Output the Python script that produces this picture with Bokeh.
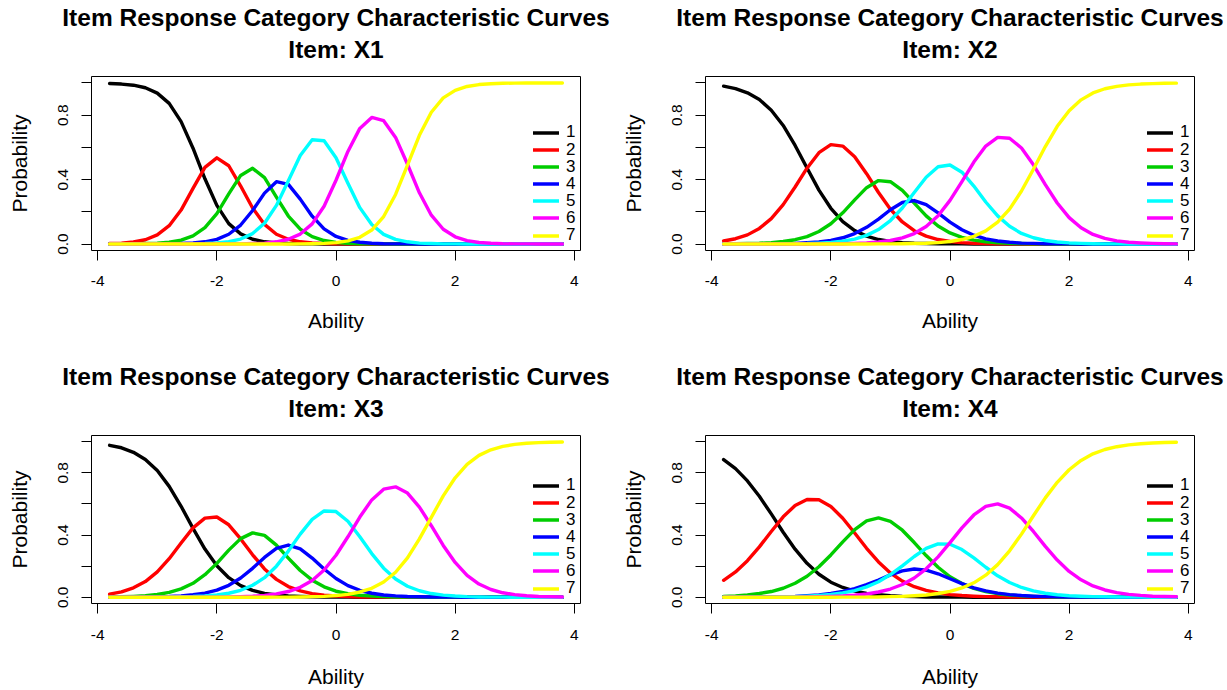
from bokeh.plotting import figure
from bokeh.models import FixedTicker, Title, Legend, LegendItem
from bokeh.layouts import column, row
from bokeh.embed import file_html
from bokeh.resources import INLINE

# ---------------- data ----------------
ability = [-3.8, -3.6, -3.4, -3.2, -3.0, -2.8, -2.6, -2.4, -2.2, -2.0,
           -1.8, -1.6, -1.4, -1.2, -1.0, -0.8, -0.6, -0.4, -0.2, 0.0,
           0.2, 0.4, 0.6, 0.8, 1.0, 1.2, 1.4, 1.6, 1.8, 2.0,
           2.2, 2.4, 2.6, 2.8, 3.0, 3.2, 3.4, 3.6, 3.8]

categories = ["1", "2", "3", "4", "5", "6", "7"]
colors = ["#000000", "#FF0000", "#00CD00", "#0000FF", "#00FFFF", "#FF00FF", "#FFFF00"]
items = ["X1", "X2", "X3", "X4"]
main_title = "Item Response Category Characteristic Curves"
x_ticks = [-4, -2, 0, 2, 4]
y_ticks = [0.0, 0.2, 0.4, 0.6, 0.8, 1.0]
y_tick_labels = ["0.0", "", "0.4", "", "0.8", ""]

# Item X1
x1_c1 = [0.997, 0.993, 0.986, 0.970, 0.937, 0.873, 0.760, 0.595, 0.405, 0.240,
         0.127, 0.063, 0.030, 0.014, 0.007, 0.003, 0.001, 0.001, 0.0, 0.0,
         0.0, 0.0, 0.0, 0.0, 0.0, 0.0, 0.0, 0.0, 0.0, 0.0,
         0.0, 0.0, 0.0, 0.0, 0.0, 0.0, 0.0, 0.0, 0.0]
x1_c2 = [0.003, 0.006, 0.013, 0.027, 0.057, 0.114, 0.211, 0.346, 0.476, 0.535,
         0.486, 0.360, 0.224, 0.122, 0.061, 0.030, 0.014, 0.007, 0.003, 0.001,
         0.001, 0.0, 0.0, 0.0, 0.0, 0.0, 0.0, 0.0, 0.0, 0.0,
         0.0, 0.0, 0.0, 0.0, 0.0, 0.0, 0.0, 0.0, 0.0]
x1_c3 = [0.0, 0.001, 0.001, 0.003, 0.005, 0.012, 0.024, 0.051, 0.102, 0.189,
         0.311, 0.426, 0.470, 0.412, 0.291, 0.174, 0.092, 0.046, 0.022, 0.010,
         0.005, 0.002, 0.001, 0.001, 0.0, 0.0, 0.0, 0.0, 0.0, 0.0,
         0.0, 0.0, 0.0, 0.0, 0.0, 0.0, 0.0, 0.0, 0.0]
x1_c4 = [0.0, 0.0, 0.0, 0.0, 0.001, 0.001, 0.003, 0.007, 0.014, 0.029,
         0.061, 0.118, 0.208, 0.316, 0.387, 0.370, 0.279, 0.173, 0.094, 0.047,
         0.023, 0.011, 0.005, 0.002, 0.001, 0.001, 0.0, 0.0, 0.0, 0.0,
         0.0, 0.0, 0.0, 0.0, 0.0, 0.0, 0.0, 0.0, 0.0]
x1_c5 = [0.0, 0.0, 0.0, 0.0, 0.0, 0.0, 0.001, 0.001, 0.003, 0.007,
         0.015, 0.031, 0.065, 0.129, 0.240, 0.393, 0.550, 0.647, 0.641, 0.536,
         0.377, 0.226, 0.121, 0.060, 0.029, 0.014, 0.006, 0.003, 0.001, 0.001,
         0.0, 0.0, 0.0, 0.0, 0.0, 0.0, 0.0, 0.0, 0.0]
x1_c6 = [0.0, 0.0, 0.0, 0.0, 0.0, 0.0, 0.0, 0.0, 0.0, 0.0,
         0.001, 0.001, 0.003, 0.006, 0.014, 0.030, 0.062, 0.125, 0.235, 0.396,
         0.575, 0.718, 0.786, 0.766, 0.662, 0.495, 0.318, 0.179, 0.092, 0.045,
         0.021, 0.010, 0.005, 0.002, 0.001, 0.001, 0.0, 0.0, 0.0]
x1_c7 = [0.0, 0.0, 0.0, 0.0, 0.0, 0.0, 0.0, 0.0, 0.0, 0.0,
         0.0, 0.0, 0.0, 0.0, 0.0, 0.0, 0.001, 0.002, 0.004, 0.009,
         0.020, 0.042, 0.087, 0.171, 0.308, 0.490, 0.675, 0.818, 0.907, 0.954,
         0.978, 0.990, 0.995, 0.998, 0.999, 1.0, 1.0, 1.0, 1.0]

# Item X2
x2_c1 = [0.980, 0.965, 0.939, 0.897, 0.831, 0.736, 0.612, 0.472, 0.335, 0.222,
         0.139, 0.084, 0.049, 0.028, 0.016, 0.009, 0.005, 0.003, 0.002, 0.001,
         0.001, 0.0, 0.0, 0.0, 0.0, 0.0, 0.0, 0.0, 0.0, 0.0,
         0.0, 0.0, 0.0, 0.0, 0.0, 0.0, 0.0, 0.0, 0.0]
x2_c2 = [0.019, 0.033, 0.057, 0.097, 0.158, 0.245, 0.354, 0.471, 0.567, 0.617,
         0.608, 0.542, 0.437, 0.320, 0.216, 0.137, 0.083, 0.049, 0.028, 0.016,
         0.009, 0.005, 0.003, 0.002, 0.001, 0.001, 0.0, 0.0, 0.0, 0.0,
         0.0, 0.0, 0.0, 0.0, 0.0, 0.0, 0.0, 0.0, 0.0]
x2_c3 = [0.001, 0.002, 0.003, 0.005, 0.009, 0.016, 0.027, 0.046, 0.078, 0.126,
         0.194, 0.274, 0.350, 0.394, 0.387, 0.333, 0.254, 0.175, 0.112, 0.069,
         0.041, 0.024, 0.014, 0.008, 0.004, 0.003, 0.001, 0.001, 0.0, 0.0,
         0.0, 0.0, 0.0, 0.0, 0.0, 0.0, 0.0, 0.0, 0.0]
x2_c4 = [0.0, 0.0, 0.001, 0.001, 0.001, 0.002, 0.004, 0.008, 0.013, 0.023,
         0.039, 0.065, 0.104, 0.155, 0.213, 0.258, 0.270, 0.245, 0.193, 0.136,
         0.089, 0.055, 0.032, 0.019, 0.011, 0.006, 0.004, 0.002, 0.001, 0.001,
         0.0, 0.0, 0.0, 0.0, 0.0, 0.0, 0.0, 0.0, 0.0]
x2_c5 = [0.0, 0.0, 0.0, 0.0, 0.001, 0.001, 0.002, 0.003, 0.006, 0.010,
         0.018, 0.031, 0.054, 0.090, 0.146, 0.224, 0.320, 0.415, 0.480, 0.491,
         0.446, 0.360, 0.261, 0.175, 0.110, 0.066, 0.039, 0.022, 0.013, 0.007,
         0.004, 0.002, 0.001, 0.001, 0.0, 0.0, 0.0, 0.0, 0.0]
x2_c6 = [0.0, 0.0, 0.0, 0.0, 0.0, 0.0, 0.0, 0.0, 0.001, 0.001,
         0.002, 0.004, 0.007, 0.013, 0.022, 0.038, 0.065, 0.109, 0.176, 0.271,
         0.388, 0.509, 0.608, 0.662, 0.657, 0.596, 0.492, 0.369, 0.255, 0.164,
         0.101, 0.060, 0.035, 0.020, 0.011, 0.007, 0.004, 0.002, 0.001]
x2_c7 = [0.0, 0.0, 0.0, 0.0, 0.0, 0.0, 0.0, 0.0, 0.0, 0.0,
         0.0, 0.0, 0.0, 0.001, 0.001, 0.002, 0.003, 0.005, 0.009, 0.016,
         0.028, 0.048, 0.082, 0.136, 0.217, 0.329, 0.464, 0.605, 0.731, 0.827,
         0.895, 0.938, 0.964, 0.979, 0.988, 0.993, 0.996, 0.998, 0.999]

# Item X3
x3_c1 = [0.977, 0.961, 0.932, 0.886, 0.815, 0.713, 0.585, 0.443, 0.310, 0.203,
         0.126, 0.075, 0.044, 0.025, 0.015, 0.008, 0.005, 0.003, 0.002, 0.001,
         0.001, 0.0, 0.0, 0.0, 0.0, 0.0, 0.0, 0.0, 0.0, 0.0,
         0.0, 0.0, 0.0, 0.0, 0.0, 0.0, 0.0, 0.0, 0.0]
x3_c2 = [0.020, 0.035, 0.061, 0.101, 0.163, 0.248, 0.349, 0.446, 0.509, 0.516,
         0.466, 0.375, 0.273, 0.182, 0.115, 0.069, 0.041, 0.023, 0.013, 0.008,
         0.004, 0.002, 0.001, 0.001, 0.0, 0.0, 0.0, 0.0, 0.0, 0.0,
         0.0, 0.0, 0.0, 0.0, 0.0, 0.0, 0.0, 0.0, 0.0]
x3_c3 = [0.002, 0.003, 0.006, 0.010, 0.018, 0.032, 0.054, 0.090, 0.145, 0.218,
         0.303, 0.377, 0.414, 0.398, 0.335, 0.252, 0.172, 0.110, 0.067, 0.039,
         0.023, 0.013, 0.008, 0.004, 0.002, 0.001, 0.001, 0.0, 0.0, 0.0,
         0.0, 0.0, 0.0, 0.0, 0.0, 0.0, 0.0, 0.0, 0.0]
x3_c4 = [0.0, 0.001, 0.001, 0.002, 0.003, 0.005, 0.009, 0.016, 0.027, 0.046,
         0.077, 0.124, 0.186, 0.256, 0.314, 0.336, 0.311, 0.252, 0.182, 0.121,
         0.075, 0.045, 0.026, 0.015, 0.009, 0.005, 0.003, 0.002, 0.001, 0.001,
         0.0, 0.0, 0.0, 0.0, 0.0, 0.0, 0.0, 0.0, 0.0]
x3_c5 = [0.0, 0.0, 0.0, 0.001, 0.001, 0.002, 0.003, 0.005, 0.009, 0.015,
         0.026, 0.045, 0.077, 0.126, 0.200, 0.297, 0.406, 0.501, 0.555, 0.551,
         0.489, 0.389, 0.281, 0.187, 0.117, 0.071, 0.042, 0.024, 0.014, 0.008,
         0.004, 0.002, 0.001, 0.001, 0.0, 0.0, 0.0, 0.0, 0.0]
x3_c6 = [0.0, 0.0, 0.0, 0.0, 0.0, 0.0, 0.0, 0.0, 0.001, 0.001,
         0.002, 0.004, 0.007, 0.012, 0.022, 0.037, 0.064, 0.108, 0.175, 0.270,
         0.389, 0.516, 0.626, 0.695, 0.710, 0.670, 0.580, 0.460, 0.333, 0.224,
         0.141, 0.085, 0.050, 0.029, 0.017, 0.010, 0.005, 0.003, 0.002]
x3_c7 = [0.0, 0.0, 0.0, 0.0, 0.0, 0.0, 0.0, 0.0, 0.0, 0.0,
         0.0, 0.0, 0.0, 0.0, 0.001, 0.001, 0.002, 0.004, 0.006, 0.011,
         0.019, 0.034, 0.058, 0.098, 0.161, 0.253, 0.375, 0.514, 0.652, 0.768,
         0.854, 0.912, 0.948, 0.970, 0.983, 0.990, 0.994, 0.997, 0.998]

# Item X4
x4_c1 = [0.885, 0.827, 0.748, 0.649, 0.536, 0.418, 0.309, 0.218, 0.148, 0.097,
         0.063, 0.040, 0.025, 0.016, 0.010, 0.006, 0.004, 0.002, 0.002, 0.001,
         0.001, 0.0, 0.0, 0.0, 0.0, 0.0, 0.0, 0.0, 0.0, 0.0,
         0.0, 0.0, 0.0, 0.0, 0.0, 0.0, 0.0, 0.0, 0.0]
x4_c2 = [0.109, 0.163, 0.235, 0.324, 0.423, 0.517, 0.590, 0.629, 0.627, 0.584,
         0.508, 0.413, 0.315, 0.227, 0.156, 0.104, 0.068, 0.044, 0.028, 0.017,
         0.011, 0.007, 0.004, 0.003, 0.002, 0.001, 0.001, 0.0, 0.0, 0.0,
         0.0, 0.0, 0.0, 0.0, 0.0, 0.0, 0.0, 0.0, 0.0]
x4_c3 = [0.006, 0.009, 0.015, 0.024, 0.037, 0.058, 0.090, 0.135, 0.196, 0.272,
         0.356, 0.435, 0.491, 0.510, 0.488, 0.431, 0.352, 0.268, 0.193, 0.132,
         0.088, 0.057, 0.037, 0.023, 0.015, 0.009, 0.006, 0.004, 0.002, 0.001,
         0.001, 0.001, 0.0, 0.0, 0.0, 0.0, 0.0, 0.0, 0.0]
x4_c4 = [0.0, 0.001, 0.001, 0.002, 0.002, 0.004, 0.006, 0.010, 0.015, 0.024,
         0.037, 0.055, 0.081, 0.111, 0.144, 0.170, 0.182, 0.174, 0.151, 0.119,
         0.088, 0.061, 0.041, 0.027, 0.017, 0.011, 0.007, 0.004, 0.003, 0.002,
         0.001, 0.001, 0.0, 0.0, 0.0, 0.0, 0.0, 0.0, 0.0]
x4_c5 = [0.0, 0.0, 0.001, 0.001, 0.002, 0.003, 0.004, 0.007, 0.011, 0.018,
         0.028, 0.043, 0.067, 0.100, 0.146, 0.202, 0.262, 0.314, 0.343, 0.341,
         0.307, 0.253, 0.193, 0.138, 0.095, 0.063, 0.041, 0.026, 0.016, 0.010,
         0.007, 0.004, 0.003, 0.002, 0.001, 0.001, 0.0, 0.0, 0.0]
x4_c6 = [0.0, 0.0, 0.0, 0.0, 0.0, 0.001, 0.001, 0.002, 0.003, 0.005,
         0.008, 0.013, 0.021, 0.034, 0.053, 0.082, 0.124, 0.183, 0.260, 0.351,
         0.446, 0.529, 0.584, 0.600, 0.573, 0.510, 0.423, 0.327, 0.239, 0.166,
         0.112, 0.073, 0.047, 0.030, 0.019, 0.012, 0.007, 0.005, 0.003]
x4_c7 = [0.0, 0.0, 0.0, 0.0, 0.0, 0.0, 0.0, 0.0, 0.0, 0.0,
         0.001, 0.001, 0.001, 0.002, 0.004, 0.006, 0.010, 0.015, 0.024, 0.038,
         0.060, 0.093, 0.142, 0.210, 0.299, 0.406, 0.524, 0.639, 0.739, 0.820,
         0.880, 0.922, 0.950, 0.968, 0.980, 0.987, 0.992, 0.995, 0.997]

panel_curves = {
    "X1": [x1_c1, x1_c2, x1_c3, x1_c4, x1_c5, x1_c6, x1_c7],
    "X2": [x2_c1, x2_c2, x2_c3, x2_c4, x2_c5, x2_c6, x2_c7],
    "X3": [x3_c1, x3_c2, x3_c3, x3_c4, x3_c5, x3_c6, x3_c7],
    "X4": [x4_c1, x4_c2, x4_c3, x4_c4, x4_c5, x4_c6, x4_c7],
}

FONT = "Liberation Sans"
FRAME_W = 489
FRAME_H = 174


def make_panel(item, width, height, border_bottom, bottom_row):
    p = figure(width=width, height=height, title=None,
               x_range=(-4.104, 4.104), y_range=(-0.04, 1.04),
               output_backend="svg", toolbar_location=None,
               min_border_left=91, min_border_right=width - 91 - FRAME_W,
               min_border_top=76, min_border_bottom=border_bottom)
    p.background_fill_color = "white"
    p.border_fill_color = "white"
    p.outline_line_color = "black"
    p.outline_line_width = 1
    p.grid.visible = False

    # two-line bold title stacked above the frame (a thin spacer first)
    spacer = Title(text=" ", text_font_size="1px", standoff=8, align="center")
    t2 = Title(text="Item: " + item, align="center", text_font=FONT,
               text_font_size="24.5px", text_font_style="bold",
               text_color="black", standoff=6)
    t1 = Title(text=main_title, align="center", text_font=FONT,
               text_font_size="24.5px", text_font_style="bold",
               text_color="black", standoff=0)
    p.add_layout(spacer, "above")
    p.add_layout(t2, "above")
    p.add_layout(t1, "above")

    renderers = []
    for col, vals in zip(colors, panel_curves[item]):
        r = p.line(ability, vals, line_color=col, line_width=3.4,
                   line_join="round", line_cap="round")
        renderers.append(r)

    # axes
    for ax in (p.xaxis[0], p.yaxis[0]):
        ax.axis_line_color = None
        ax.major_tick_in = 0
        ax.major_tick_out = 10
        ax.minor_tick_in = 0
        ax.minor_tick_out = 0
        ax.major_tick_line_color = "black"
        ax.major_label_text_font = FONT
        ax.major_label_text_font_size = "15.5px"
        ax.major_label_text_color = "black"
        ax.axis_label_text_font = FONT
        ax.axis_label_text_font_size = "21px"
        ax.axis_label_text_font_style = "normal"
        ax.axis_label_text_color = "black"

    p.xaxis.ticker = FixedTicker(ticks=x_ticks)
    p.xaxis.major_label_overrides = {t: str(t) for t in x_ticks}
    p.xaxis.axis_label = "Ability"
    if bottom_row:
        p.xaxis.major_label_standoff = 16
        p.xaxis.major_label_text_line_height = 1.0
        p.xaxis.axis_label_text_line_height = 0.8
        p.xaxis.axis_label_standoff = 22
    else:
        p.xaxis.major_label_standoff = 15
        p.xaxis.axis_label_standoff = 20

    p.yaxis.ticker = FixedTicker(ticks=y_ticks)
    p.yaxis.major_label_overrides = dict(zip(y_ticks, y_tick_labels))
    p.yaxis.major_label_orientation = "vertical"
    p.yaxis.major_label_standoff = 13
    p.yaxis.axis_label = "Probability"
    p.yaxis.axis_label_standoff = 25

    # legend: one entry per category, stacked 17px apart at the right
    for k, (cat, r) in enumerate(zip(categories, renderers)):
        lg = Legend(items=[LegendItem(label=cat, renderers=[r])],
                    location=(442, 5 + (6 - k) * 17.1))
        lg.border_line_color = None
        lg.background_fill_alpha = 0
        lg.padding = 0
        lg.margin = 0
        lg.spacing = 0
        lg.glyph_width = 26
        lg.glyph_height = 17
        lg.label_height = 17
        lg.label_standoff = 7
        lg.label_text_font = FONT
        lg.label_text_font_size = "17px"
        lg.label_text_color = "black"
        p.add_layout(lg)
    return p


p1 = make_panel("X1", 614, 359, 109, False)
p2 = make_panel("X2", 613, 359, 109, False)
p3 = make_panel("X3", 614, 331, 81, True)
p4 = make_panel("X4", 613, 331, 81, True)

layout = column(row(p1, p2), row(p3, p4))

open("out.html", "w").write(file_html(layout, INLINE))
